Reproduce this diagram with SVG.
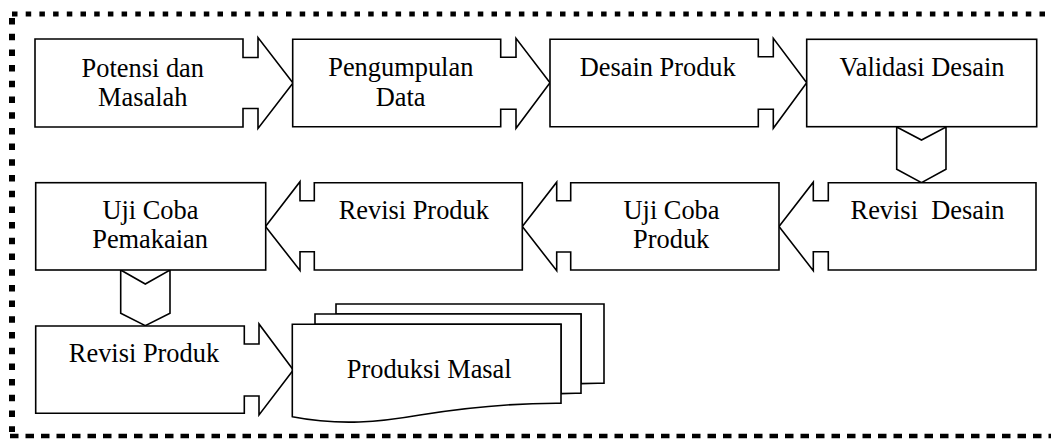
<svg xmlns="http://www.w3.org/2000/svg" width="1051" height="439" viewBox="0 0 1051 439">
<style>
.s{fill:#fff;stroke:#000;stroke-width:1.6;stroke-linejoin:miter}
.t{font-family:"Liberation Serif","Times New Roman",serif;font-size:26.4px;fill:#000;text-anchor:middle}
.b{fill:none;stroke:#000}
</style>
<rect width="1051" height="439" fill="#fff"/>
<g id="border">
<line class="b" x1="12" y1="14" x2="1051" y2="14" stroke-width="5" stroke-dasharray="5.5 8.2"/>
<line class="b" x1="12" y1="18" x2="12" y2="432" stroke-width="6" stroke-dasharray="6.5 9.2"/>
<line class="b" x1="10" y1="436" x2="1051" y2="436" stroke-width="4.5" stroke-dasharray="8.5 7"/>
</g>
<g id="connectors">
<path class="s" d="M896.7,127 L921.5,140 L946,127 V169.3 L921.5,182.7 L896.7,169.3 Z"/>
<path class="s" d="M120.7,270 L145.3,284 L170,270 V313.3 L145.3,325.7 L120.7,313.3 Z"/>
</g>
<g id="n1">
<path class="s" d="M35,39 H243 V57.5 H258 V37.5 L293,83 L258,128.5 V108.5 H243 V127 H35 Z"/>
<text class="t" x="142.8" y="77.3">Potensi dan</text>
<text class="t" x="142.8" y="106.3">Masalah</text>
</g>
<g id="n2">
<path class="s" d="M292.7,39.3 H500.7 V57.3 H516 V38.3 L550,82.7 L516,128.3 V109.3 H500.7 V126.7 H292.7 Z"/>
<text class="t" x="400.8" y="76.3">Pengumpulan</text>
<text class="t" x="400.6" y="105.6">Data</text>
</g>
<g id="n3">
<path class="s" d="M550,39.3 H758.3 V56.7 H773.3 V38.3 L806.7,82.7 L773.3,128.3 V109.3 H758.3 V126.7 H550 Z"/>
<text class="t" x="657.7" y="75.5">Desain Produk</text>
</g>
<g id="n4">
<rect class="s" x="806.7" y="39.3" width="230" height="87.4"/>
<text class="t" x="922" y="75.5">Validasi Desain</text>
</g>
<g id="n5">
<path class="s" d="M1036,182.7 V270 H828.3 V251.7 H813.3 V270.7 L779,226.5 L813.3,182.2 V200.7 H828.3 V182.7 Z"/>
<text class="t" x="927.5" y="219.3" xml:space="preserve">Revisi  Desain</text>
</g>
<g id="n6">
<path class="s" d="M779,182.7 V270 H570.7 V252 H556.7 V270.7 L522.3,226.5 L556.7,182.2 V200.7 H570.7 V182.7 Z"/>
<text class="t" x="671.5" y="219.3">Uji Coba</text>
<text class="t" x="671.2" y="248.3">Produk</text>
</g>
<g id="n7">
<path class="s" d="M522.3,182.7 V270 H314.3 V251.7 H300 V270.5 L265.5,226.5 L300,181.7 V200.7 H314.3 V182.7 Z"/>
<text class="t" x="413.8" y="219.3">Revisi Produk</text>
</g>
<g id="n8">
<rect class="s" x="35.7" y="182.7" width="230" height="87.3"/>
<text class="t" x="150.4" y="219.3">Uji Coba</text>
<text class="t" x="150.1" y="248.3">Pemakaian</text>
</g>
<g id="n9">
<path class="s" d="M35.7,326 H244.3 V344 H259 V324 L293.3,370 L259,415 V396 H244.3 V413.3 H35.7 Z"/>
<text class="t" x="144" y="361.7">Revisi Produk</text>
</g>
<g id="n10">
<path class="s" d="M336,304 H604 V383.3 C596,383.2 588,383.3 581,383.6 V314 H336 Z"/>
<path class="s" d="M315,314 H581 V393.3 C574,393.2 567,393.3 561,393.6 V324.3 H315 Z"/>
<path class="s" d="M292.3,324.3 H561 V403.3 C520,403 470,407 420,415 C380,422 340,426 292.3,416.7 Z"/>
<text class="t" x="429.2" y="377.7">Produksi Masal</text>
</g>
</svg>
